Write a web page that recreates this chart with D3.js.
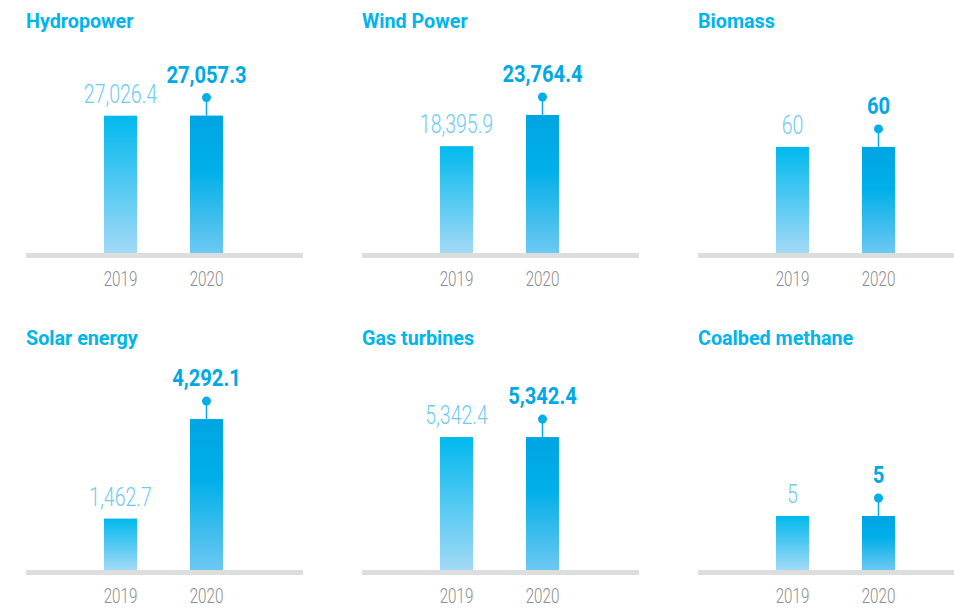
<!DOCTYPE html>
<html lang="en">
<head>
<meta charset="utf-8">
<title>Installed capacity by source</title>
<script src="https://cdn.jsdelivr.net/npm/d3@7"></script>
<style>
  body { margin: 0; background: #ffffff; }
  text { font-family: "Roboto", "Liberation Sans", sans-serif; }
  .titre { fill: #00b4ec; font-size: 21px; font-weight: bold; }
  .annee { fill: #8c8c8c; font-size: 20px; font-weight: 300; text-anchor: middle; }
  .val2019 { fill: #6fcbf2; font-size: 25px; font-weight: 300; text-anchor: middle; }
  .val2020 { fill: #00a8e6; font-size: 24px; font-weight: bold; text-anchor: middle; }
  .socle { fill: #dcdddd; }
  .tige { stroke: #00aee8; stroke-width: 1.5px; }
  .pastille { fill: #00aee8; }
</style>
</head>
<body>
<svg width="954" height="609"></svg>
<script>

const categories = ["Hydropower", "Wind Power", "Biomass", "Solar energy", "Gas turbines", "Coalbed methane"];
const years = ["2019", "2020"];
const values2019 = [27026.4, 18395.9, 60, 1462.7, 5342.4, 5];
const values2020 = [27057.3, 23764.4, 60, 4292.1, 5342.4, 5];
// each small chart has its own (hidden) vertical scale
const scaleMax = [31500, 27550, 90.5, 4550, 6430, 14.8];

const svg = d3.select("svg");
const fmt = d3.format(",");

const largeurPanneau = 336, hauteurRangee = 317;
const hauteurMax = 160, largeurBarre = 33;

// police étroite : on resserre horizontalement
function texte(parent, classe, x, y, contenu, sx) {
  return parent.append("text").classed(classe, true)
    .attr("transform", "translate(" + x + "," + y + ") scale(" + sx + ",1)")
    .text(contenu);
}

// gradients des barres
const defs = svg.append("defs");
const g1 = defs.append("linearGradient").attr("id", "grad2019")
  .attr("x1", 0).attr("y1", 0).attr("x2", 0).attr("y2", 1);
g1.append("stop").attr("offset", "0%").attr("stop-color", "#00b9ee");
g1.append("stop").attr("offset", "100%").attr("stop-color", "#a2d9f6");

const g2 = defs.append("linearGradient").attr("id", "grad2020")
  .attr("x1", 0).attr("y1", 0).attr("x2", 0).attr("y2", 1);
g2.append("stop").attr("offset", "0%").attr("stop-color", "#00a5e3");
g2.append("stop").attr("offset", "40%").attr("stop-color", "#00afe9");
g2.append("stop").attr("offset", "100%").attr("stop-color", "#6dc8f2");

const x = d3.scalePoint()
  .domain(years)
  .range([94.5, 180.5]);

categories.forEach(function (cat, i) {
  const col = i % 3, row = Math.floor(i / 3);
  const base = 253;
  const p = svg.append("g")
    .attr("transform", "translate(" + (26 + col * largeurPanneau) + "," + (row * hauteurRangee) + ")");

  const y = d3.scaleLinear()
    .domain([0, scaleMax[i]])
    .range([base, base - hauteurMax]);

  const donnees = [
    {annee: years[0], v: values2019[i]},
    {annee: years[1], v: values2020[i]}
  ];

  // titre
  texte(p, "titre", 0, 28, cat, 0.94);

  // barres
  p.selectAll("rect.barre")
    .data(donnees)
    .enter()
    .append("rect")
      .classed("barre", true)
      .attr("x", d => x(d.annee) - largeurBarre / 2)
      .attr("y", d => y(d.v))
      .attr("width", largeurBarre)
      .attr("height", d => base - y(d.v))
      .style("fill", (d, k) => k === 0 ? "url(#grad2019)" : "url(#grad2020)");

  // socle gris
  p.append("rect").classed("socle", true)
    .attr("x", 0).attr("y", base)
    .attr("width", 277).attr("height", 5);

  // années
  donnees.forEach(function (d) {
    texte(p, "annee", x(d.annee), base + 33, d.annee, 0.76);
  });

  // valeur 2019
  texte(p, "val2019", x(years[0]), y(values2019[i]) - 13, fmt(values2019[i]), 0.78);

  // repère et valeur 2020
  const haut = y(values2020[i]);
  p.append("line").classed("tige", true)
    .attr("x1", x(years[1])).attr("x2", x(years[1]))
    .attr("y1", haut).attr("y2", haut - 18);
  p.append("circle").classed("pastille", true)
    .attr("cx", x(years[1])).attr("cy", haut - 18)
    .attr("r", 4.5);
  texte(p, "val2020", x(years[1]), haut - 33, fmt(values2020[i]), 0.84);
});
</script>
</body>
</html>
